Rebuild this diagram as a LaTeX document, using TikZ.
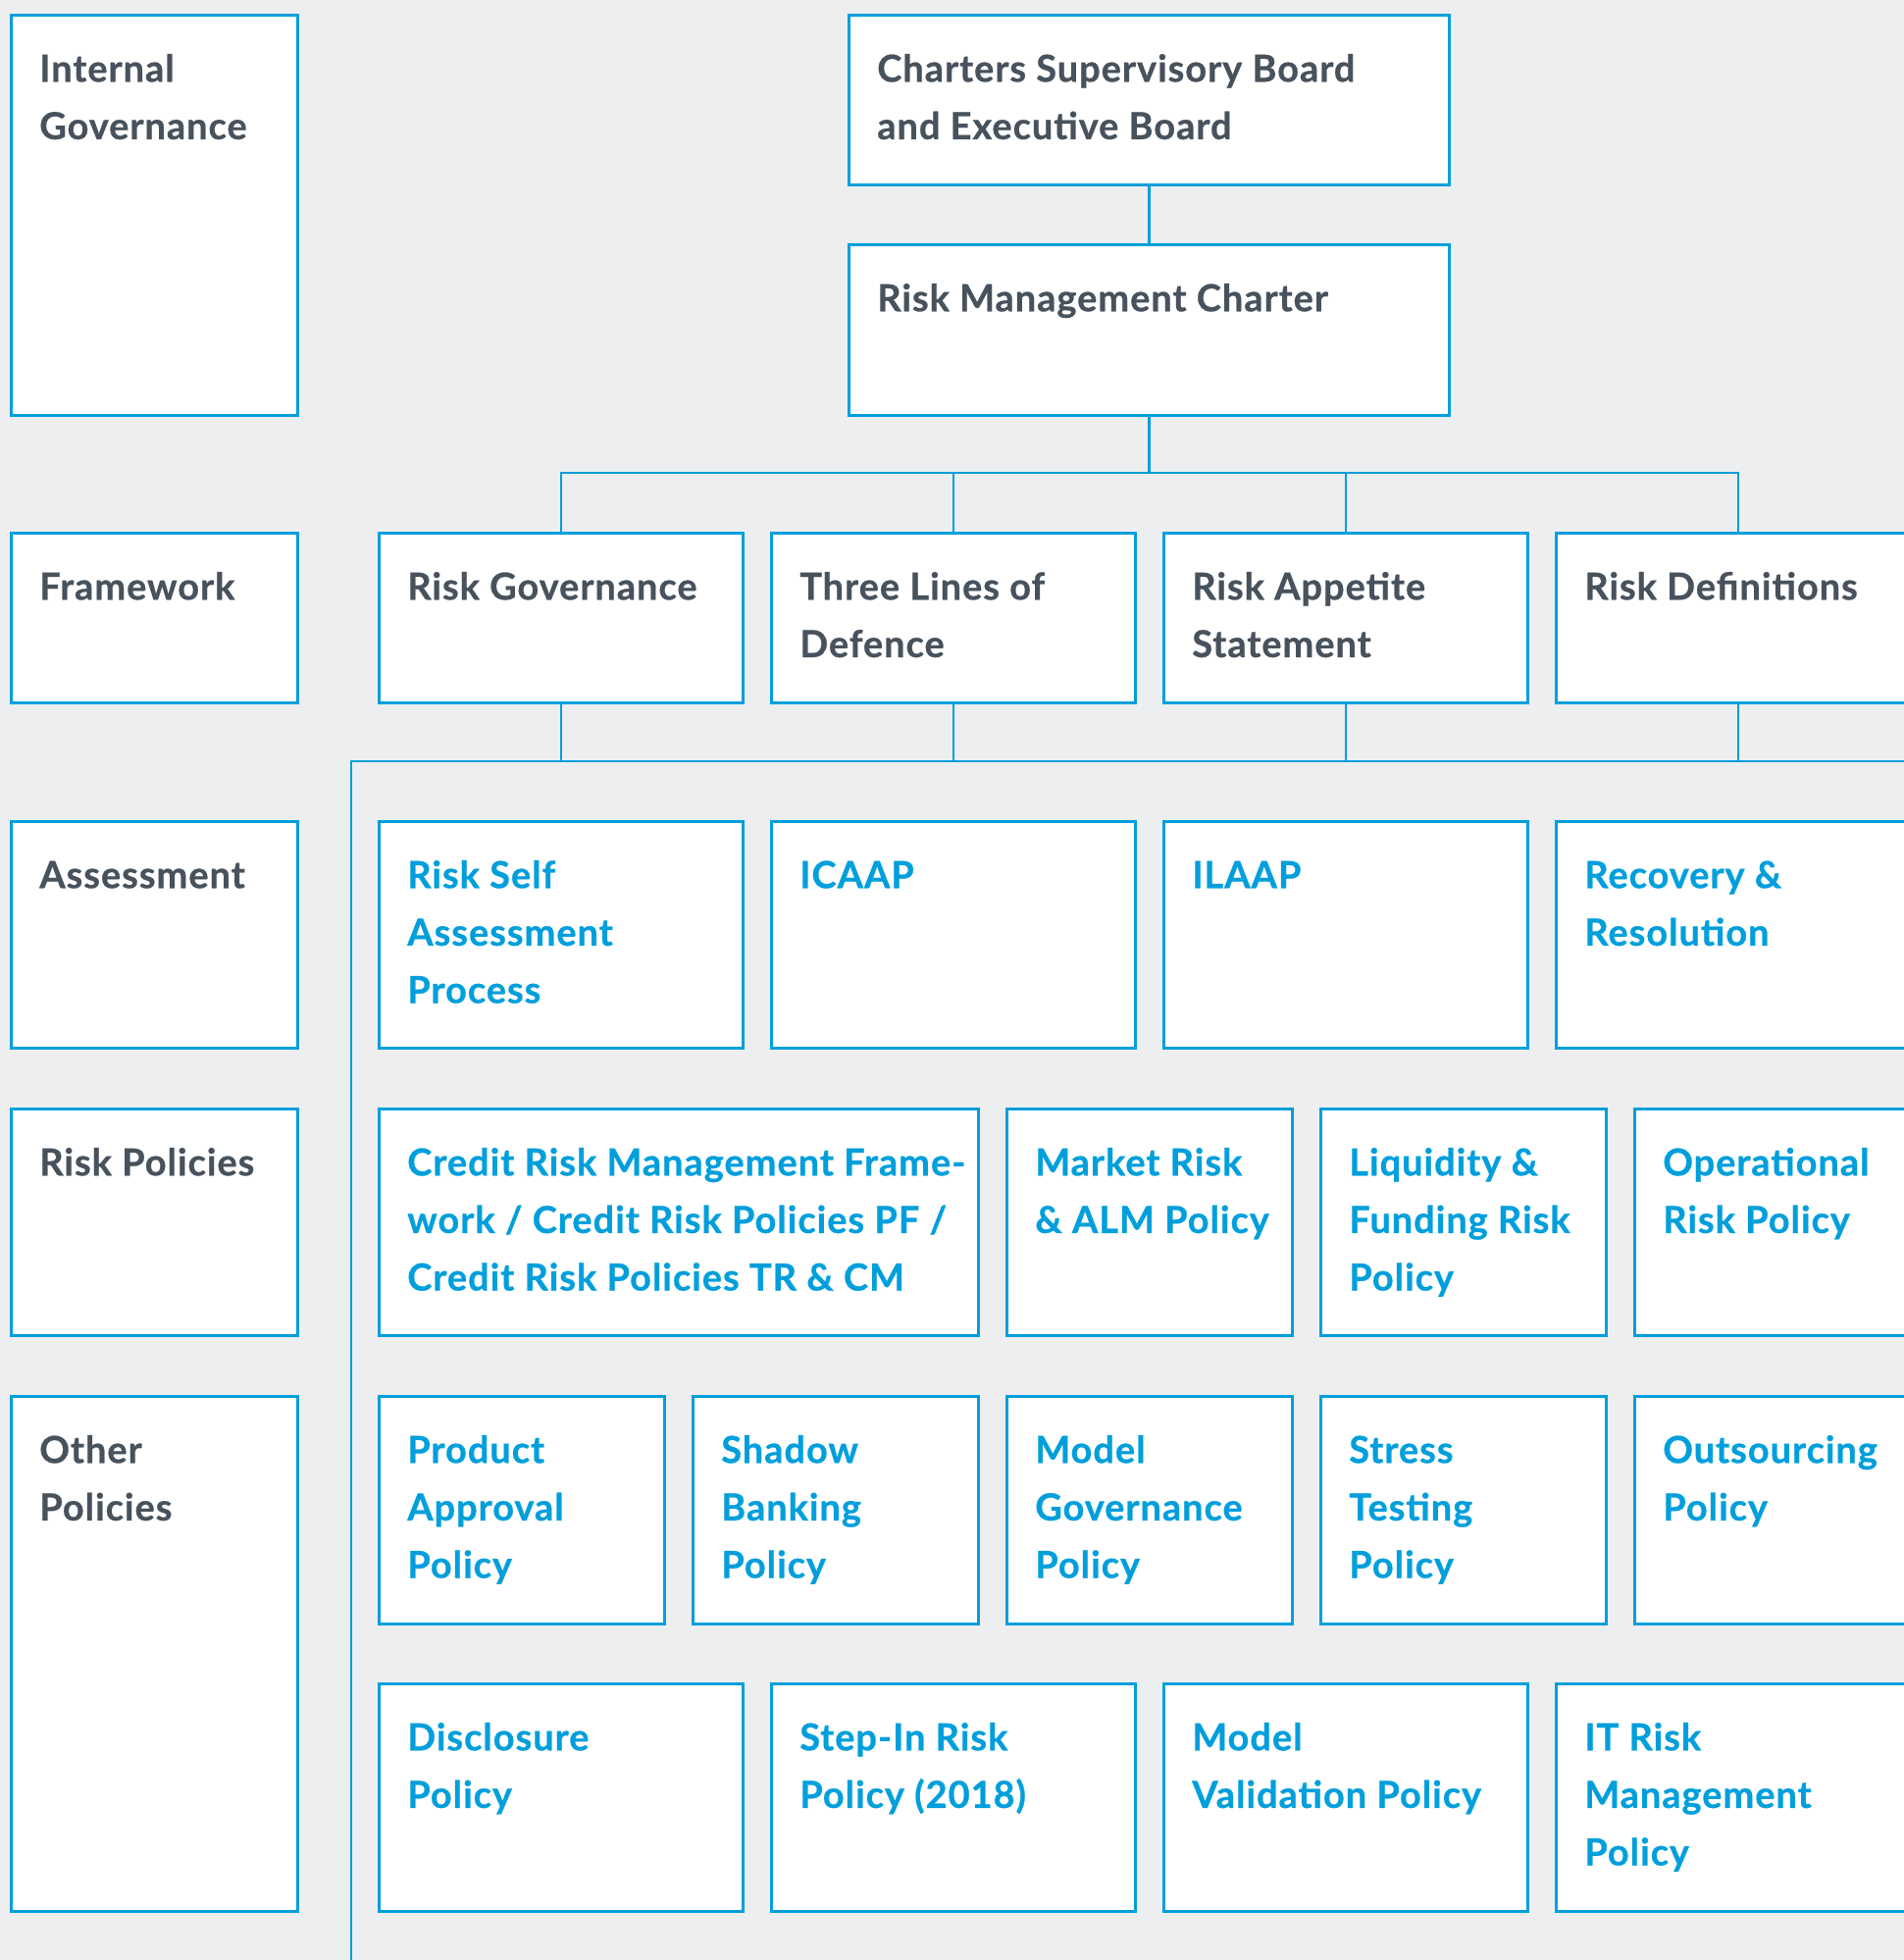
\documentclass[tikz,border=0pt]{standalone}
\usepackage{fontspec}
\setmainfont{Lato}[BoldFeatures={FakeBold=0.6,LetterSpace=2.5}]
\definecolor{bluec}{HTML}{009FDC}
\definecolor{darkc}{HTML}{47525D}
\definecolor{bgc}{HTML}{EDEEF0}
\newcommand{\boxtext}[3]{\hspace*{29pt}\parbox[t][#2pt][t]{\dimexpr#1pt-29pt\relax}{\raggedright\rule{0pt}{68pt}#3}}
\tikzset{
  cbox/.style={draw=bluec, line width=2.6pt, fill=white, inner sep=0pt, anchor=north west,
    font=\fontsize{38pt}{58.6pt}\selectfont\bfseries},
  darkbox/.style={cbox, text=darkc},
  bluebox/.style={cbox, text=bluec},
  conn/.style={draw=bluec, line width=2.6pt},
}
\begin{document}
\begin{tikzpicture}[x=1pt,y=-1pt]
\useasboundingbox (0,0) rectangle (1941,1998);
\fill[bgc] (0,0) rectangle (1941,1998);
% left labels
\node[darkbox] (lg1) at (10,14) {\boxtext{292}{408}{Internal\\Governance}};
\node[darkbox] (lg2) at (10,542) {\boxtext{292}{173}{Framework}};
\node[darkbox] (lg3) at (10,836) {\boxtext{292}{231}{Assessment}};
\node[darkbox] (lg4) at (10,1129) {\boxtext{292}{231}{Risk Policies}};
\node[darkbox] (lg5) at (10,1422) {\boxtext{292}{525}{Other\\Policies}};
% top
\node[darkbox] (ch) at (864,14) {\boxtext{612}{173}{Charters Supervisory Board\\and Executive Board}};
\node[darkbox] (rmc) at (864,248) {\boxtext{612}{174}{Risk Management Charter}};
% framework
\node[darkbox] (fw1) at (385,542) {\boxtext{371}{173}{Risk Governance}};
\node[darkbox] (fw2) at (785,542) {\boxtext{371}{173}{Three Lines of\\Defence}};
\node[darkbox] (fw3) at (1185,542) {\boxtext{371}{173}{Risk Appetite\\Statement}};
\node[darkbox] (fw4) at (1585,542) {\boxtext{371}{173}{Risk Definitions}};
% assessment
\node[bluebox] (as1) at (385,836) {\boxtext{371}{231}{Risk Self\\Assessment\\Process}};
\node[bluebox] (as2) at (785,836) {\boxtext{371}{231}{ICAAP}};
\node[bluebox] (as3) at (1185,836) {\boxtext{371}{231}{ILAAP}};
\node[bluebox] (as4) at (1585,836) {\boxtext{371}{231}{Recovery \&\\Resolution}};
% risk policies
\node[bluebox] (rp1) at (385,1129) {\boxtext{611}{231}{\addfontfeatures{LetterSpace=0.2}Credit Risk Management Frame-\\work / Credit Risk Policies PF /\\Credit Risk Policies TR \& CM}};
\node[bluebox] (rp2) at (1025,1129) {\boxtext{291}{231}{Market Risk\\\& ALM Policy}};
\node[bluebox] (rp3) at (1345,1129) {\boxtext{291}{231}{Liquidity \&\\Funding Risk\\Policy}};
\node[bluebox] (rp4) at (1665,1129) {\boxtext{291}{231}{Operational\\Risk Policy}};
% other policies row 1
\node[bluebox] (op1) at (385,1422) {\boxtext{291}{232}{Product\\Approval\\Policy}};
\node[bluebox] (op2) at (705,1422) {\boxtext{291}{232}{Shadow\\Banking\\Policy}};
\node[bluebox] (op3) at (1025,1422) {\boxtext{291}{232}{Model\\Governance\\Policy}};
\node[bluebox] (op4) at (1345,1422) {\boxtext{291}{232}{Stress\\Testing\\Policy}};
\node[bluebox] (op5) at (1665,1422) {\boxtext{291}{232}{Outsourcing\\Policy}};
% other policies row 2
\node[bluebox] (oq1) at (385,1715) {\boxtext{371}{232}{Disclosure\\Policy}};
\node[bluebox] (oq2) at (785,1715) {\boxtext{371}{232}{Step-In Risk\\Policy (2018)}};
\node[bluebox] (oq3) at (1185,1715) {\boxtext{371}{232}{Model\\Validation Policy}};
\node[bluebox] (oq4) at (1585,1715) {\boxtext{371}{232}{IT Risk\\Management\\Policy}};
% connectors
\coordinate (b1) at (0,482);
\coordinate (b2) at (0,776);
\coordinate (trunktop) at (358,776);
\coordinate (trunkbot) at (358,2010);
\coordinate (busend) at (1960,776);
\draw[conn] (ch.south) -- (rmc.north);
\draw[conn] (rmc.south) -- (rmc.south |- b1);
\draw[conn] (fw1.north) -- (fw1.north |- b1) -- (fw4.north |- b1) -- (fw4.north);
\draw[conn] (fw2.north) -- (fw2.north |- b1);
\draw[conn] (fw3.north) -- (fw3.north |- b1);
\draw[conn] (fw1.south) -- (fw1.south |- b2);
\draw[conn] (fw2.south) -- (fw2.south |- b2);
\draw[conn] (fw3.south) -- (fw3.south |- b2);
\draw[conn] (fw4.south) -- (fw4.south |- b2);
\draw[conn] (trunkbot) -- (trunktop) -- (busend);
\end{tikzpicture}
\end{document}
